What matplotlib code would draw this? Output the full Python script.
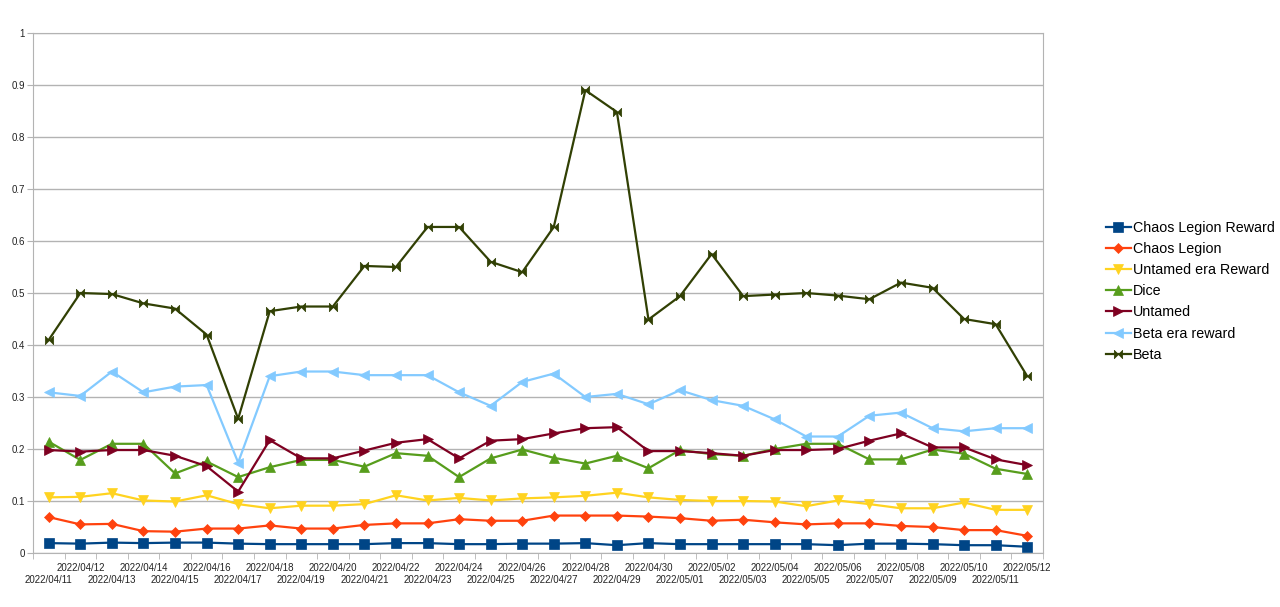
import numpy as np
import matplotlib
matplotlib.use("Agg")
import matplotlib.pyplot as plt
from matplotlib.path import Path
from matplotlib.ticker import FixedLocator

plt.rcParams['font.family'] = ['Liberation Sans', 'DejaVu Sans']

# 日期
dates = ["2022/04/11", "2022/04/12", "2022/04/13", "2022/04/14", "2022/04/15", "2022/04/16",
         "2022/04/17", "2022/04/18", "2022/04/19", "2022/04/20", "2022/04/21", "2022/04/22",
         "2022/04/23", "2022/04/24", "2022/04/25", "2022/04/26", "2022/04/27", "2022/04/28",
         "2022/04/29", "2022/04/30", "2022/05/01", "2022/05/02", "2022/05/03", "2022/05/04",
         "2022/05/05", "2022/05/06", "2022/05/07", "2022/05/08", "2022/05/09", "2022/05/10",
         "2022/05/11", "2022/05/12"]

chaos_legion_reward = [0.019, 0.018, 0.020, 0.019, 0.020, 0.020, 0.018, 0.017, 0.017, 0.017,
                       0.017, 0.019, 0.019, 0.017, 0.017, 0.018, 0.018, 0.019, 0.015, 0.019,
                       0.017, 0.017, 0.017, 0.017, 0.017, 0.015, 0.018, 0.018, 0.017, 0.015,
                       0.015, 0.012]
chaos_legion = [0.069, 0.055, 0.056, 0.042, 0.041, 0.047, 0.047, 0.053, 0.047, 0.047,
                0.054, 0.057, 0.057, 0.065, 0.062, 0.062, 0.072, 0.072, 0.072, 0.070,
                0.067, 0.062, 0.064, 0.059, 0.055, 0.057, 0.057, 0.052, 0.050, 0.044,
                0.044, 0.033]
untamed_era_reward = [0.107, 0.108, 0.115, 0.101, 0.099, 0.111, 0.094, 0.086, 0.091, 0.091,
                      0.094, 0.111, 0.101, 0.106, 0.101, 0.105, 0.107, 0.110, 0.116, 0.107,
                      0.102, 0.100, 0.100, 0.099, 0.090, 0.101, 0.094, 0.086, 0.086, 0.097,
                      0.083, 0.083]
dice = [0.214, 0.179, 0.210, 0.210, 0.153, 0.176, 0.146, 0.165, 0.179, 0.179,
        0.166, 0.192, 0.187, 0.146, 0.182, 0.199, 0.183, 0.172, 0.187, 0.163,
        0.198, 0.190, 0.187, 0.200, 0.210, 0.210, 0.180, 0.180, 0.199, 0.191,
        0.162, 0.152]
untamed = [0.198, 0.195, 0.198, 0.198, 0.187, 0.167, 0.118, 0.217, 0.182, 0.182,
           0.197, 0.212, 0.219, 0.182, 0.216, 0.219, 0.230, 0.240, 0.242, 0.196,
           0.196, 0.192, 0.187, 0.198, 0.198, 0.200, 0.216, 0.230, 0.203, 0.203,
           0.180, 0.169]
beta_era_reward = [0.309, 0.302, 0.349, 0.309, 0.320, 0.323, 0.174, 0.340, 0.349, 0.349,
                   0.342, 0.342, 0.342, 0.309, 0.283, 0.329, 0.345, 0.300, 0.306, 0.286,
                   0.313, 0.294, 0.283, 0.257, 0.224, 0.224, 0.264, 0.270, 0.240, 0.234,
                   0.240, 0.240]
beta = [0.410, 0.500, 0.498, 0.480, 0.470, 0.420, 0.258, 0.465, 0.474, 0.474,
        0.552, 0.550, 0.627, 0.627, 0.560, 0.540, 0.627, 0.890, 0.848, 0.449,
        0.494, 0.575, 0.494, 0.497, 0.500, 0.495, 0.488, 0.520, 0.510, 0.450,
        0.440, 0.340]

y_ticks = [0, 0.1, 0.2, 0.3, 0.4, 0.5, 0.6, 0.7, 0.8, 0.9, 1]

# 蝴蝶结标记
bowtie = Path([(-1, 1), (-1, -1), (0, 0), (-1, 1), (1, 1), (1, -1), (0, 0), (1, 1)],
              [Path.MOVETO, Path.LINETO, Path.LINETO, Path.CLOSEPOLY,
               Path.MOVETO, Path.LINETO, Path.LINETO, Path.CLOSEPOLY])

series = [
    ("Chaos Legion Reward", chaos_legion_reward, "#004586", "s", 6.5),
    ("Chaos Legion", chaos_legion, "#ff420e", "D", 5),
    ("Untamed era Reward", untamed_era_reward, "#ffd320", "v", 7),
    ("Dice", dice, "#579d1c", "^", 7),
    ("Untamed", untamed, "#7e0021", ">", 7),
    ("Beta era reward", beta_era_reward, "#83caff", "<", 7),
    ("Beta", beta, "#314004", bowtie, 6),
]

fig = plt.figure(figsize=(12.8, 6.07), dpi=100)
ax = fig.add_axes([33 / 1280, 1 - 553 / 607, 1010 / 1280, 520 / 607])

x = np.arange(len(dates))
for name, vals, color, marker, ms in series:
    ax.plot(x, vals, color=color, marker=marker, markersize=ms, linewidth=1.6,
            markeredgewidth=0.5, markeredgecolor=color, label=name)

ax.set_xlim(-0.5, len(dates) - 0.5)
ax.set_ylim(0, 1)
ax.set_yticks(y_ticks)
ax.set_yticklabels([f"{v:g}" for v in y_ticks])
ax.grid(axis='y', color='#b3b3b3', linewidth=1)
ax.set_axisbelow(True)

# x 轴标签交错两行
ax.set_xticks(x)
ax.set_xticklabels(dates, fontsize=7, color='#222222')
ax.tick_params(axis='x', which='major', length=0, pad=7)
for i, t in enumerate(ax.xaxis.get_major_ticks()):
    if i % 2 == 0:
        t.set_pad(16)
ax.xaxis.set_minor_locator(FixedLocator(np.arange(-0.5, len(dates), 1.0)))
ax.tick_params(axis='x', which='minor', length=4, color='#b3b3b3')
ax.tick_params(axis='y', length=4, color='#b3b3b3', labelsize=7, labelcolor='#222222', pad=2)

for s in ax.spines.values():
    s.set_color('#b3b3b3')

fig.legend(loc='upper left', bbox_to_anchor=(1093 / 1280, 1 - 208 / 607), frameon=False,
           fontsize=10.3, labelspacing=0.5, handlelength=1.75, handletextpad=0.15)

plt.savefig("out.png", dpi=100)
